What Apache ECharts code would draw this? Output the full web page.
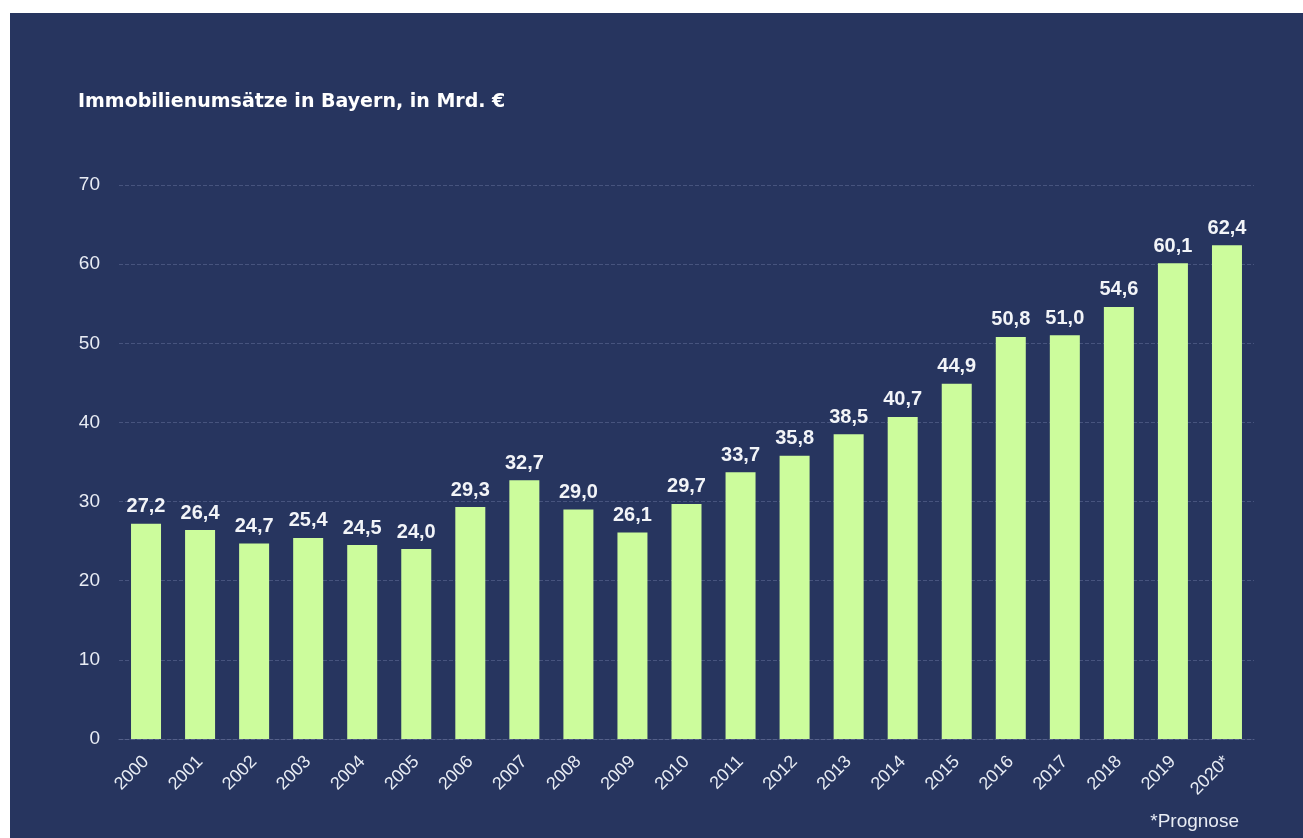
<!DOCTYPE html>
<html>
<head>
<meta charset="utf-8">
<script src="https://cdn.jsdelivr.net/npm/echarts@6/dist/echarts.min.js"></script>
<style>
    body { margin: 0; background: #ffffff; }
    #main { position: absolute; left: 10px; top: 13px; width: 1293px; height: 825px; background: #27355f; }
</style>
</head>
<body>
<div id="main"></div>
<script>
// Immobilienumsätze in Bayern
const years = ['2000', '2001', '2002', '2003', '2004', '2005', '2006', '2007', '2008', '2009', '2010',
    '2011', '2012', '2013', '2014', '2015', '2016', '2017', '2018', '2019', '2020*'];
const umsatz = [27.2, 26.4, 24.7, 25.4, 24.5, 24.0, 29.3, 32.7, 29.0, 26.1, 29.7,
    33.7, 35.8, 38.5, 40.7, 44.9, 50.8, 51.0, 54.6, 60.1, 62.4];
const yTicks = [0, 10, 20, 30, 40, 50, 60, 70];

function drawChart() {
    let myChart = echarts.init(document.getElementById('main'));

    let option = {
        animation: false,
        title: {
            text: 'Immobilienumsätze in Bayern, in Mrd. €',
            left: 63,
            top: 75,
            textStyle: {
                color: '#ffffff',
                fontFamily: 'DejaVu Sans, Verdana, sans-serif',
                fontSize: 19,
                fontWeight: 'bold'
            }
        },
        graphic: [
            {
                type: 'text',
                right: 64,
                bottom: 7,
                style: {
                    text: '*Prognose',
                    fill: '#e8ecf4',
                    font: '19px Liberation Sans, Arial, sans-serif'
                }
            }
        ],
        grid: {
            left: 109,
            right: 49,
            top: 172,
            bottom: 99
        },
        xAxis: {
            type: 'category',
            data: years,
            axisLine: {
                show: true,
                lineStyle: { color: '#55618a', type: 'dashed', width: 1 }
            },
            axisTick: { show: false },
            axisLabel: {
                rotate: 45,
                interval: 0,
                margin: 20,
                color: '#e8ecf4',
                fontFamily: 'Liberation Sans, Arial, sans-serif',
                fontSize: 18
            }
        },
        yAxis: {
            type: 'value',
            min: yTicks[0],
            max: yTicks[yTicks.length - 1],
            interval: 10,
            axisLine: { show: false },
            axisTick: { show: false },
            axisLabel: {
                margin: 19,
                color: '#e8ecf4',
                fontFamily: 'Liberation Sans, Arial, sans-serif',
                fontSize: 19
            },
            splitLine: {
                lineStyle: { color: '#47547e', type: 'dashed', width: 1 }
            }
        },
        series: [
            {
                type: 'bar',
                data: umsatz,
                barWidth: 30,
                itemStyle: { color: '#ccfc9c' },
                label: {
                    show: true,
                    position: 'top',
                    distance: 7,
                    color: '#f2f4f8',
                    fontFamily: 'Liberation Sans, Arial, sans-serif',
                    fontSize: 20,
                    fontWeight: 'bold',
                    formatter: function (p) {
                        return p.value.toFixed(1).replace('.', ',');
                    }
                }
            }
        ]
    };

    myChart.setOption(option);
}

drawChart();
</script>
</body>
</html>
